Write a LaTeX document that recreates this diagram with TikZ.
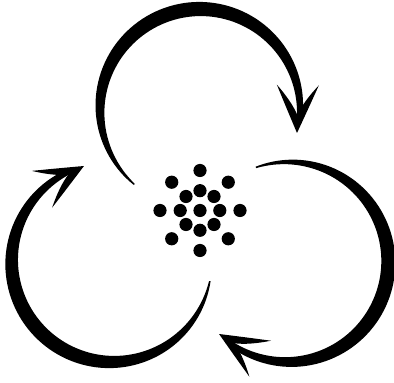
\documentclass[tikz,border=0pt]{standalone}
\tikzset{
  inkfill/.style={fill=black},
  dotstyle/.style={fill=black}
}
\begin{document}
\begin{tikzpicture}[x=1pt,y=1pt]
\fill[white] (0,0) rectangle (394,383);
\useasboundingbox (0,0) rectangle (394,383);
% three curved arrows, rotated copies around the centre
\foreach \rot in {0,-120,120}{
  \begin{scope}[rotate around={\rot:(200,172)}]
    \begin{scope}[shift={(200,274)}]
      \fill[inkfill] plot[domain=0:1,samples=90,variable=\t]
        ({229-237*\t}:{100+0.5*(1.5+11*sin(180*\t)+3.5*\t)})
        -- plot[domain=1:0,samples=90,variable=\t]
        ({229-237*\t}:{100-0.5*(1.5+11*sin(180*\t)+3.5*\t)}) -- cycle;
    \end{scope}
    \begin{scope}[shift={(297,250)},rotate=89]
      \fill[inkfill] (0,0) .. controls (18,8) and (34,15) .. (48,21)
        .. controls (37,11) and (27,4) .. (18,0)
        .. controls (27,-4) and (37,-11) .. (48,-21)
        .. controls (34,-15) and (18,-8) .. (0,0) -- cycle;
    \end{scope}
  \end{scope}
}
% central cluster of dots
\begin{scope}[shift={(200,172.5)}]
  \fill[dotstyle] (0,0) circle[radius=6.6pt];
  \foreach \a in {0,45,...,315}{
    \fill[dotstyle] (\a:19.8) circle[radius=6.6pt];
    \fill[dotstyle] (\a:40) circle[radius=6.6pt];
  }
\end{scope}
\end{tikzpicture}
\end{document}
